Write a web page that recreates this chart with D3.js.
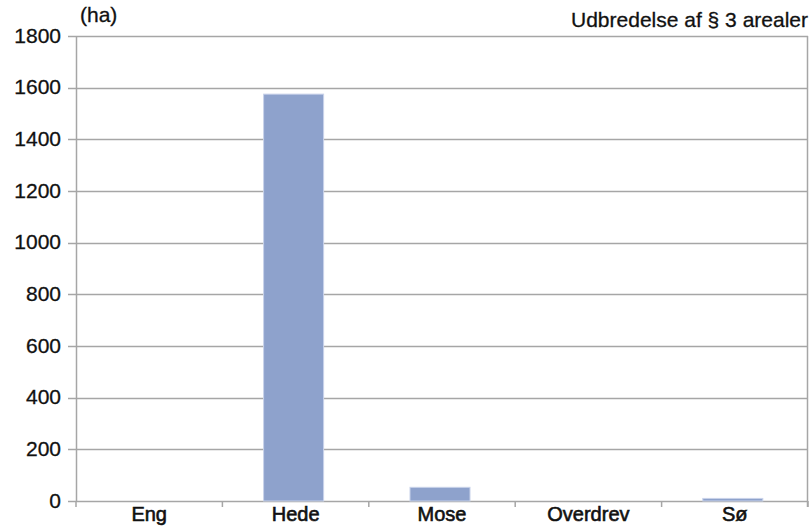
<!DOCTYPE html>
<html>
<head>
<meta charset="utf-8">
<script src="https://cdn.jsdelivr.net/npm/d3@7"></script>
<style>
  html, body { margin: 0; padding: 0; background: #fff; }
  svg { display: block; }
  text { font-family: "Liberation Sans", Arial, sans-serif; fill: #111; }
</style>
</head>
<body>
<svg id="chart" width="810" height="529"></svg>
<script>
// Habitat categories and their area in hectares
const categories = ["Eng", "Hede", "Mose", "Overdrev", "Sø"];
const areaHa = [0, 1575, 53, 0, 10];
const yTicks = [0, 200, 400, 600, 800, 1000, 1200, 1400, 1600, 1800];
const titleText = "Udbredelse af § 3 arealer";
const unitText = "(ha)";

const svg = d3.select("#chart");
const margin = { left: 76, right: 2, top: 36, bottom: 28 };
const width = 810, height = 529;
const x0 = margin.left, x1 = width - margin.right;
const y0 = height - margin.bottom, y1 = margin.top;

const x = d3.scaleBand().domain(categories).range([x0, x1]).paddingInner(0.59).paddingOuter(0.295);
const xb = d3.scaleBand().domain(categories).range([x0, x1]);
const y = d3.scaleLinear().domain([0, 1800]).range([y0, y1]);

const grid = "#a6a6a6";

// horizontal gridlines
svg.append("g").selectAll("line").data(yTicks).join("line")
  .attr("x1", x0 - 8).attr("x2", x1)
  .attr("y1", d => Math.round(y(d)) + 0.5).attr("y2", d => Math.round(y(d)) + 0.5)
  .attr("stroke", grid).attr("stroke-width", 1.5);

// plot-area sides
svg.append("line").attr("x1", x0 + 0.5).attr("x2", x0 + 0.5).attr("y1", y1).attr("y2", y0)
  .attr("stroke", grid).attr("stroke-width", 1.5);
svg.append("line").attr("x1", x1 - 0.5).attr("x2", x1 - 0.5).attr("y1", y1).attr("y2", y0 + 6)
  .attr("stroke", grid).attr("stroke-width", 1.5);

// category tick marks at band boundaries
const bounds = categories.map(c => xb(c)).concat([x1]);
svg.append("g").selectAll("line").data(bounds).join("line")
  .attr("x1", d => d).attr("x2", d => d)
  .attr("y1", y0).attr("y2", y0 + 6)
  .attr("stroke", grid).attr("stroke-width", 1.5);

// bars
svg.append("g").selectAll("rect").data(categories).join("rect")
  .attr("x", d => x(d) - 2)
  .attr("width", x.bandwidth())
  .attr("y", (d, i) => y(areaHa[i]))
  .attr("height", (d, i) => y(0) - y(areaHa[i]))
  .attr("fill", "#8ea2cc")
  .attr("stroke", "#c9d3ea").attr("stroke-width", 1);

// y tick labels
svg.append("g").selectAll("text").data(yTicks).join("text")
  .attr("x", 61).attr("y", d => y(d) - 1)
  .attr("dy", "0.36em")
  .attr("text-anchor", "end")
  .style("font-size", "21px")
  .attr("stroke", "#111").attr("stroke-width", 0.3)
  .text(d => d);

// category labels
svg.append("g").selectAll("text").data(categories).join("text")
  .attr("x", d => xb(d) + xb.bandwidth() / 2)
  .attr("y", 514).attr("dy", "0.36em")
  .attr("text-anchor", "middle")
  .style("font-size", "20px")
  .attr("stroke", "#111").attr("stroke-width", 0.6)
  .text(d => d);

// unit and title
svg.append("text").attr("x", 80).attr("y", 22).style("font-size", "21px")
  .attr("stroke", "#111").attr("stroke-width", 0.3).text(unitText);
svg.append("text").attr("x", 808).attr("y", 27).attr("text-anchor", "end")
  .style("font-size", "21px").attr("stroke", "#111").attr("stroke-width", 0.3).text(titleText);
</script>
</body>
</html>
